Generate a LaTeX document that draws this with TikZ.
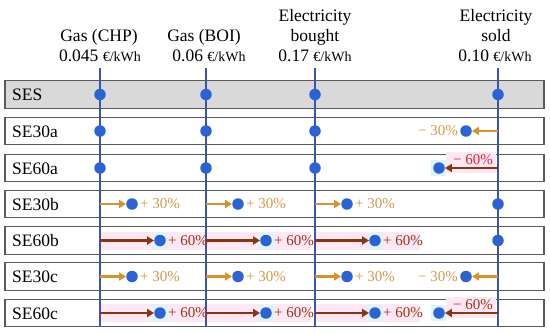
\documentclass[tikz,border=0pt]{standalone}
\usepackage{fontspec}
\setmainfont{Liberation Serif}
\usetikzlibrary{arrows.meta}
\definecolor{boxgray}{HTML}{5A5A5A}
\definecolor{sesgray}{HTML}{D9D9D9}
\definecolor{lineblue}{HTML}{3A56A8}
\definecolor{dotblue}{HTML}{2B62D4}
\definecolor{or30}{HTML}{D8922A}
\definecolor{txt30}{HTML}{D4994A}
\definecolor{br60}{HTML}{8B3412}
\definecolor{txt60}{HTML}{9A3418}
\definecolor{red60}{HTML}{E8202A}
\definecolor{pinkhl}{HTML}{FFE8F4}
\definecolor{cyanhl}{HTML}{DDF5FA}
\newcommand\myunit{\fontsize{14}{16}\selectfont €/kWh}
\begin{document}
\begin{tikzpicture}[x=1pt,y=-1pt,
  rowbox/.style={draw=boxgray,line width=1.1pt,minimum width=539pt,minimum height=27.5pt,inner sep=0pt},
  rowlabel/.style={anchor=base west,font=\rmfamily\fontsize{17.5}{20}\selectfont,inner sep=0pt},
  head/.style={anchor=base,font=\rmfamily\fontsize{17.5}{20}\selectfont,inner sep=0pt},
  vline/.style={draw=lineblue,line width=1.2pt},
  dot/.style={circle,fill=dotblue,minimum size=11.5pt,inner sep=0pt},
  arr30/.style={draw=or30,line width=2.2pt,-{Triangle[length=7pt,width=8pt]}},
  arr60/.style={draw=br60,line width=2.2pt,-{Triangle[length=7pt,width=8pt]}},
  pct30/.style={text=txt30,font=\rmfamily\fontsize{15}{17}\selectfont,inner sep=2pt},
  pct60/.style={text=txt60,font=\rmfamily\fontsize{15}{17}\selectfont,inner sep=2pt},
]
\useasboundingbox (0,0) rectangle (550,333);

% headers
\node[head] (h1a) at (99,41) {Gas (CHP)};
\node[head] (h1b) at (100,61) {0.045 \myunit};
\node[head] (h2a) at (204,41) {Gas (BOI)};
\node[head] (h2b) at (209,61) {0.06 \myunit};
\node[head] (h3a) at (315,21) {Electricity};
\node[head] (h3b) at (315,41) {bought};
\node[head] (h3c) at (315,61) {0.17 \myunit};
\node[head] (h4a) at (496,21) {Electricity};
\node[head] (h4b) at (496,41) {sold};
\node[head] (h4c) at (495,61) {0.10 \myunit};

% row boxes
\foreach \r/\y/\nm/\fc in {0/94.5/SES/sesgray,1/131/SE30a/white,2/168/SE60a/white,3/204/SE30b/white,4/240.5/SE60b/white,5/276.5/SE30c/white,6/313/SE60c/white}{
  \node[rowbox,fill=\fc] (box\r) at (274.5,\y) {};
  \node[rowlabel] (lab\r) at (12,\y+6) {\nm};
}

% highlights
\foreach \y in {240.5,313}{
  \foreach \x in {100,206,315}{
    \fill[pinkhl] (\x,\y-9) rectangle (\x+105,\y+9);
    \fill[cyanhl] (\x+52,\y-8) rectangle (\x+68,\y+8);
  }
}
\foreach \y in {168,313}{
  \fill[pinkhl] (446,\y-16) rectangle (496,\y+5);
  \fill[cyanhl] (431,\y-8) rectangle (446,\y+8);
}

% column lines
\foreach \c/\x in {1/100,2/206,3/315,4/498}{
  \coordinate (top\c) at (\x,68);
  \coordinate (bot\c) at (\x,327);
  \draw[vline] (top\c) -- (bot\c);
}

% dots on the lines
\foreach \c/\x in {1/100,2/206,3/315,4/498}{
  \node[dot] (d0\c) at (\x,94.5) {};
}
\foreach \r/\y in {1/131,2/168}{
  \foreach \c/\x in {1/100,2/206,3/315}{
    \node[dot] (d\r\c) at (\x,\y) {};
  }
}
\node[dot] (d34) at (498,204) {};
\node[dot] (d44) at (498,240.5) {};

% +30% shifts
\foreach \r/\y in {3/204,5/276.5}{
  \foreach \c/\x in {1/100,2/206,3/315}{
    \coordinate (s\r\c) at (\x,\y);
    \node[dot] (d\r\c) at (\x+32,\y) {};
    \draw[arr30] (s\r\c) -- (d\r\c.west);
    \node[pct30,anchor=west] (p\r\c) at (d\r\c.east) {+ 30\%};
  }
}
% +60% shifts
\foreach \r/\y in {4/240.5,6/313}{
  \foreach \c/\x in {1/100,2/206,3/315}{
    \coordinate (s\r\c) at (\x,\y);
    \node[dot] (d\r\c) at (\x+60,\y) {};
    \draw[arr60] (s\r\c) -- (d\r\c.west);
    \node[pct60,anchor=west] (p\r\c) at (d\r\c.east) {+ 60\%};
  }
}
% -30% shifts
\foreach \r/\y in {1/131,5/276.5}{
  \coordinate (s\r4) at (498,\y);
  \node[dot] (d\r4) at (466,\y) {};
  \draw[arr30] (s\r4) -- (d\r4.east);
  \node[pct30,anchor=east] (p\r4) at (d\r4.west) {− 30\%};
}
% -60% shifts
\coordinate (s24) at (498,168);
\node[dot] (d24) at (439,168) {};
\draw[arr60] (s24) -- (d24.east);
\node[pct60,text=red60] (p24) at (473,160) {− 60\%};
\coordinate (s64) at (498,313);
\node[dot] (d64) at (439,313) {};
\draw[arr60] (s64) -- (d64.east);
\node[pct60] (p64) at (473,305) {− 60\%};
\end{tikzpicture}
\end{document}
